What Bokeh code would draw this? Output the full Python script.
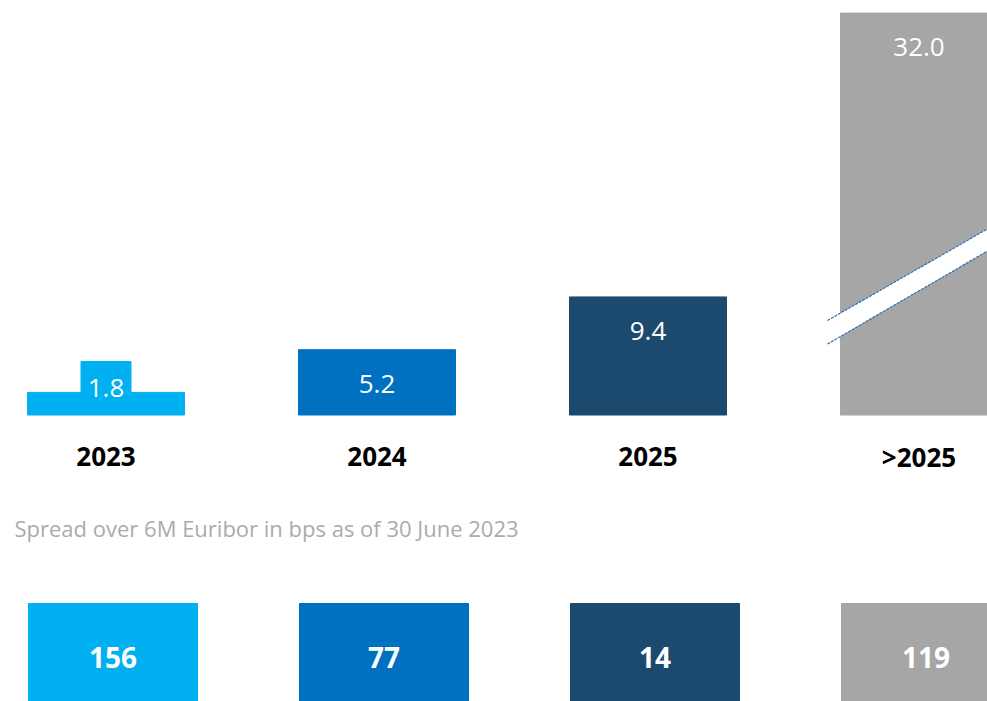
import numpy as np
from bokeh.plotting import figure
from bokeh.models import Range1d, ColumnDataSource
from bokeh.core.properties import value
from bokeh.embed import file_html
from bokeh.resources import INLINE

# ---- data ----
categories = ["2023", "2024", "2025", ">2025"]
volumes = [1.8, 5.2, 9.4, 32.0]
volume_labels = ["1.8", "5.2", "9.4", "32.0"]
spreads = [156, 77, 14, 119]
spread_labels = ["156", "77", "14", "119"]
colors = ["#00b0f0", "#0070c0", "#1c4a6e", "#a6a6a6"]
subtitle = "Spread over 6M Euribor in bps as of 30 June 2023"

# ---- layout constants (pixels) ----
W, H = 987, 701
PX_X = 271.0      # pixels per category step
PX_Y = 12.56      # pixels per unit of value
X0 = 105.5        # first category centre, px from figure left
Y0 = 414.5        # baseline, px from figure top

x_start = -X0 / PX_X
x_end = x_start + W / PX_X
y_end = Y0 / PX_Y
y_start = y_end - H / PX_Y


def ydata(py):
    return (Y0 - py) / PX_Y


def xdata(px):
    return x_start + px / PX_X


idx = np.arange(len(categories))
FONT = value("Open Sans")

p = figure(width=W, height=H, x_range=Range1d(x_start, x_end),
           y_range=Range1d(y_start, y_end), output_backend="svg",
           toolbar_location=None, x_axis_type=None, y_axis_type=None,
           min_border=0, outline_line_color=None,
           background_fill_color="white", border_fill_color="white")
p.grid.visible = False

# bars
bars = ColumnDataSource(dict(x=idx, top=volumes, color=colors,
                             label=volume_labels,
                             ly=[max(v - 34 / PX_Y, ydata(387)) for v in volumes]))
p.vbar(x="x", top="top", bottom=0, width=157 / PX_X, color="color", source=bars)

# label background (same colour as bar)
p.rect(x="x", y="ly", width=50, height=52, width_units="screen",
       height_units="screen", color="color", source=bars)
p.text(x="x", y="ly", text="label", text_color="white", text_font=FONT,
       text_font_size="26px", text_align="center", text_baseline="middle",
       source=bars)

# axis break on the last bar
bx = [xdata(827), xdata(1000), xdata(1000), xdata(827)]
by = [ydata(320), ydata(221), ydata(243), ydata(343.5)]
p.patch(bx, by, fill_color="white", line_color=None)
p.line([bx[0], bx[1]], [by[0], by[1]], line_color="#2f70b0", line_width=1.2,
       line_dash="3 1")
p.line([bx[3], bx[2]], [by[3], by[2]], line_color="#2f70b0", line_width=1.2,
       line_dash="3 1")

# category labels
p.text(x=idx, y=[ydata(456)] * len(idx), text=categories, text_color="black",
       text_font=FONT, text_font_style="bold", text_font_size="26px",
       text_align="center", text_baseline="middle")

# subtitle
p.text(x=[xdata(14)], y=[ydata(527)], text=[subtitle],
       text_color="#ababab", text_font=FONT, text_font_size="22px",
       text_align="left", text_baseline="middle")

# spread boxes
BOX_DX = 7 / PX_X
sp = ColumnDataSource(dict(x=idx + BOX_DX, color=colors, label=spread_labels))
p.vbar(x="x", top=ydata(603), bottom=y_start - 2, width=169 / PX_X,
       color="color", source=sp)
p.text(x="x", y=ydata(657), text="label", text_color="white", text_font=FONT,
       text_font_style="bold", text_font_size="28px", text_align="center",
       text_baseline="middle", source=sp)

open("out.html", "w").write(file_html(p, INLINE))
